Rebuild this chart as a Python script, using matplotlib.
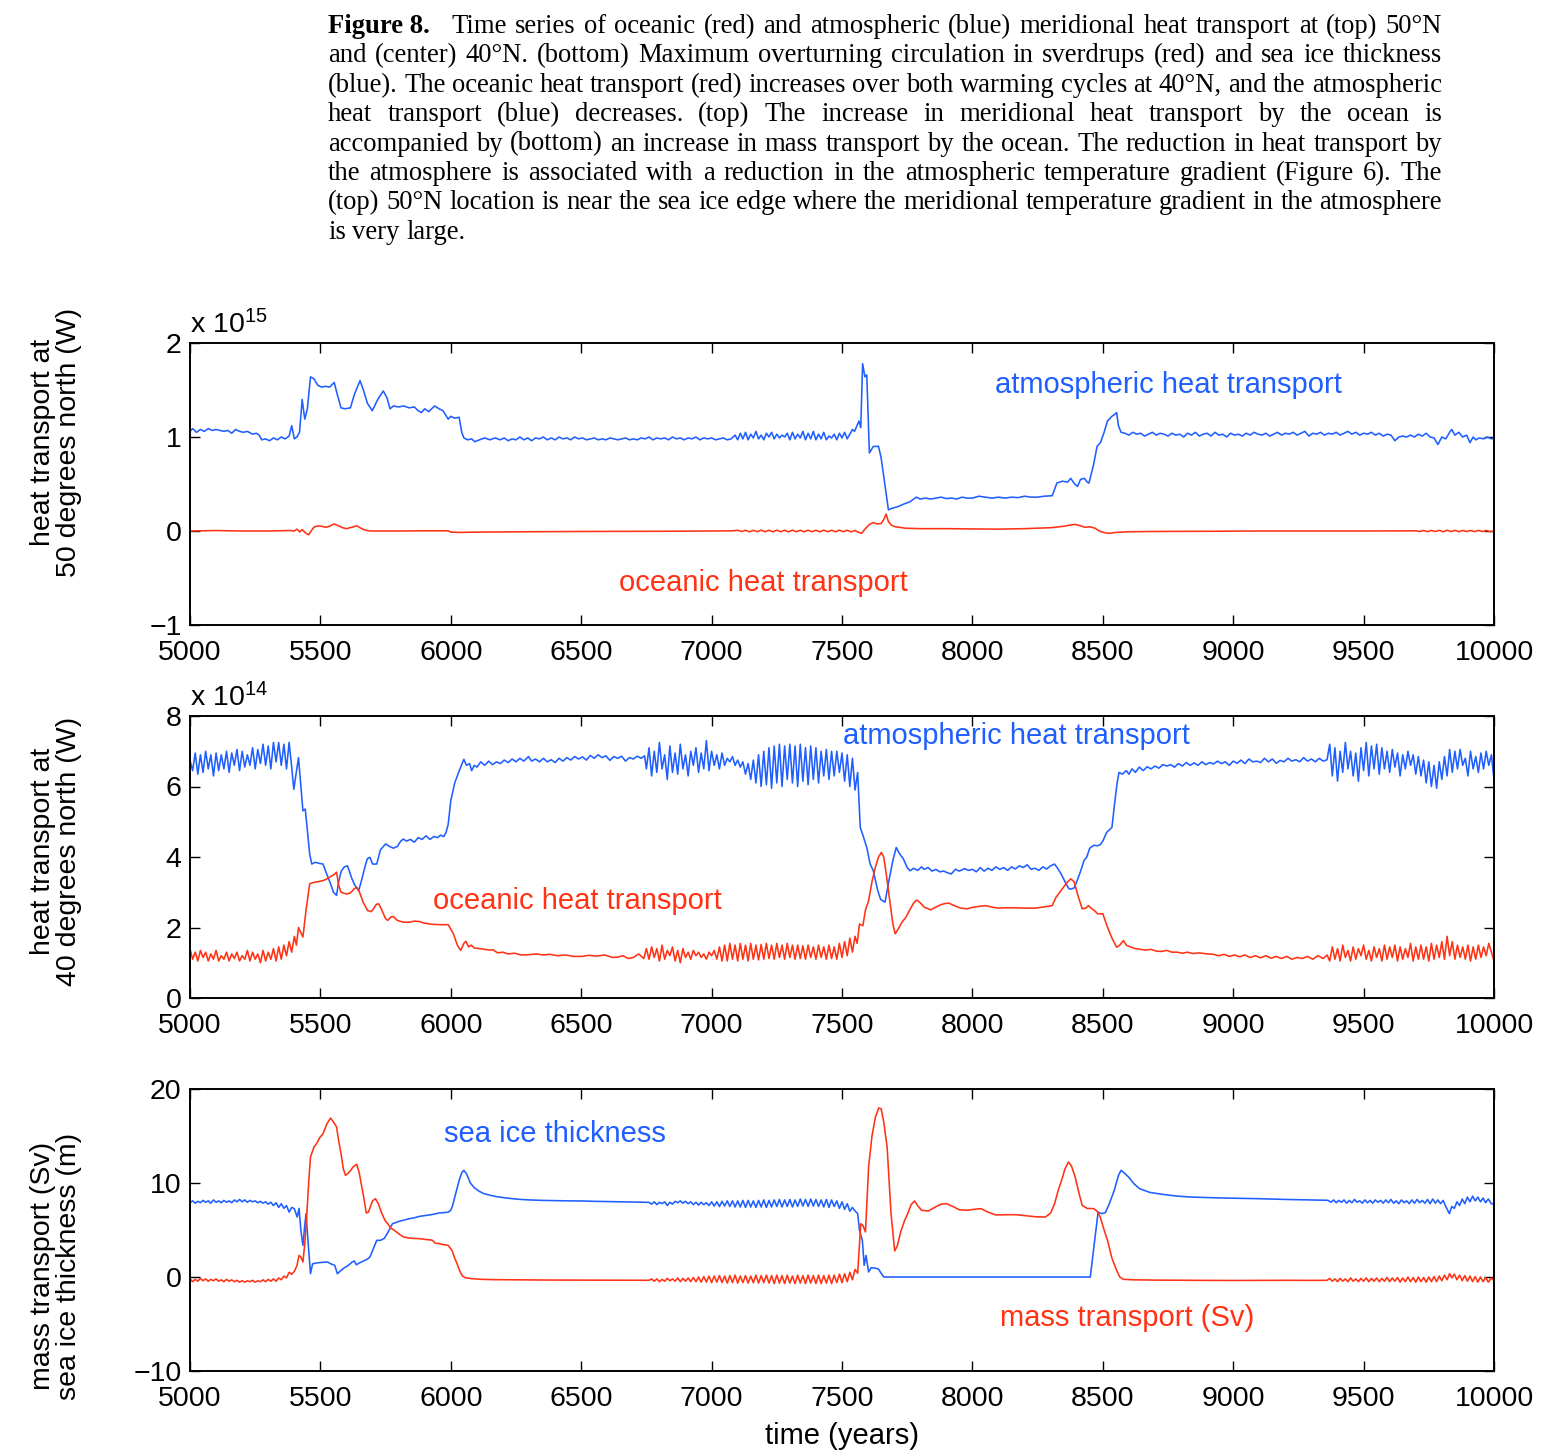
import matplotlib
matplotlib.use("Agg")
import matplotlib.pyplot as plt

plt.rcParams['font.family'] = ['Liberation Sans', 'DejaVu Sans']
plt.rcParams['mathtext.default'] = 'regular'

# ---------------- DATA ----------------
# Top panel: heat transport at 50N (units of 1e15 W)
atm50 = [(5000,1.06),(5010,1.09),(5025,1.05),(5040,1.08),(5055,1.06),(5070,1.09),(5085,1.07),(5100,1.08),
 (5115,1.07),(5130,1.06),(5145,1.07),(5160,1.04),(5175,1.08),(5190,1.06),(5205,1.05),(5220,1.06),(5240,1.03),
 (5255,1.04),(5265,1.02),(5275,0.97),(5290,0.98),(5305,0.96),(5320,0.99),(5335,0.97),(5350,1.00),(5365,0.98),
 (5380,1.01),(5390,1.12),(5400,0.98),(5410,1.00),(5420,1.05),(5430,1.40),(5440,1.19),(5450,1.30),(5462,1.64),
 (5475,1.62),(5490,1.55),(5505,1.53),(5520,1.54),(5535,1.53),(5553,1.58),(5565,1.45),(5579,1.31),(5595,1.30),
 (5615,1.31),(5630,1.45),(5652,1.60),(5665,1.50),(5680,1.36),(5699,1.28),(5720,1.40),(5741,1.49),(5755,1.42),
 (5767,1.30),(5780,1.33),(5800,1.32),(5820,1.33),(5840,1.31),(5860,1.32),(5875,1.28),(5887,1.26),(5900,1.30),
 (5915,1.27),(5938,1.33),(5955,1.30),(5970,1.28),(5990,1.19),(6000,1.22),(6015,1.20),(6032,1.21),(6042,1.05),
 (6050,0.99),(6065,0.97),(6080,0.98),(6092,0.95),(6110,0.97),(6130,0.99),(6150,0.97),(6170,0.99),(6190,0.97),
 (6205,0.99),(6220,0.96),(6235,0.98),(6250,0.97),(6265,1.00),(6280,0.97),(6295,0.99),(6310,0.96),(6325,0.99),
 (6340,0.98),(6355,1.00),(6370,0.97),(6385,0.99),(6400,0.97),(6415,1.00),(6430,0.98),(6445,0.99),(6460,0.97),
 (6475,1.00),(6490,0.98),(6505,0.99),(6520,0.97),(6535,0.98),(6550,0.99),(6565,0.97),(6580,0.98),(6595,0.97),
 (6610,0.99),(6625,0.98),(6640,0.97),(6655,0.98),(6670,0.99),(6685,0.97),(6700,0.98),(6715,0.97),(6730,0.99),
 (6745,0.98),(6760,1.00),(6775,0.97),(6790,0.99),(6805,0.98),(6820,0.99),(6835,0.97),(6850,1.00),(6865,0.98),
 (6880,0.99),(6895,0.97),(6910,0.99),(6925,0.98),(6940,1.00),(6955,0.97),(6970,0.99),(6985,0.98),(7000,0.99),
 (7015,0.97),(7030,0.98),(7045,0.99),(7060,0.97),(7075,0.98),(7090,1.02),(7100,0.97),(7110,1.04),(7120,0.98),
 (7130,1.05),(7140,0.97),(7150,1.03),(7160,0.99),(7170,1.06),(7180,0.98),(7190,1.02),(7200,0.97),(7210,1.04),
 (7220,1.00),(7230,1.05),(7240,0.98),(7250,1.03),(7260,0.99),(7270,1.02),(7280,1.00),(7290,1.04),(7300,0.97),
 (7310,1.05),(7320,0.98),(7330,1.03),(7340,0.99),(7350,1.06),(7360,0.97),(7370,1.04),(7380,0.98),(7390,1.06),
 (7400,0.97),(7410,1.03),(7420,0.98),(7430,1.05),(7440,0.97),(7450,1.01),(7460,0.99),(7470,1.03),(7480,0.97),
 (7490,1.04),(7500,0.99),(7510,1.05),(7520,0.98),(7530,1.03),(7540,1.08),(7548,1.06),(7565,1.17),(7572,1.10),
 (7579,1.78),(7588,1.64),(7595,1.66),(7605,0.83),(7620,0.90),(7640,0.90),(7650,0.78),(7678,0.225),(7690,0.24),
 (7715,0.26),(7740,0.29),(7760,0.31),(7785,0.36),(7800,0.34),(7820,0.35),(7840,0.34),(7860,0.35),(7880,0.36),
 (7900,0.345),(7920,0.35),(7940,0.34),(7960,0.36),(7980,0.35),(8000,0.35),(8025,0.37),(8050,0.36),(8075,0.35),
 (8100,0.36),(8125,0.35),(8150,0.36),(8175,0.355),(8200,0.37),(8225,0.36),(8250,0.36),(8275,0.37),(8306,0.375),
 (8324,0.51),(8345,0.53),(8365,0.52),(8377,0.56),(8392,0.50),(8403,0.475),(8415,0.55),(8430,0.56),(8440,0.52),
 (8447,0.51),(8455,0.60),(8465,0.71),(8478,0.90),(8491,0.94),(8505,1.05),(8518,1.17),(8535,1.22),(8545,1.24),
 (8553,1.26),(8560,1.12),(8570,1.05),(8585,1.04),(8600,1.02),(8615,1.05),(8630,1.03),(8645,1.04),(8660,1.01),
 (8675,1.03),(8690,1.05),(8705,1.02),(8720,1.04),(8735,1.03),(8750,1.01),(8765,1.04),(8780,1.02),(8795,1.03),
 (8810,1.00),(8825,1.04),(8840,1.02),(8855,1.05),(8870,1.01),(8885,1.03),(8900,1.04),(8915,1.01),(8930,1.05),
 (8945,1.02),(8960,1.03),(8975,1.00),(8990,1.04),(9005,1.02),(9020,1.03),(9035,1.01),(9050,1.04),(9065,1.02),
 (9080,1.05),(9095,1.03),(9110,1.02),(9125,1.04),(9140,1.01),(9155,1.03),(9170,1.05),(9185,1.02),(9200,1.04),
 (9215,1.03),(9230,1.05),(9245,1.02),(9260,1.04),(9275,1.06),(9290,1.01),(9305,1.04),(9320,1.03),(9335,1.05),
 (9350,1.02),(9365,1.04),(9380,1.03),(9395,1.05),(9410,1.02),(9425,1.04),(9440,1.06),(9455,1.03),(9470,1.05),
 (9485,1.02),(9500,1.04),(9515,1.03),(9530,1.05),(9545,1.02),(9560,1.04),(9575,1.01),(9590,1.03),(9605,1.02),
 (9620,0.96),(9635,1.00),(9650,1.01),(9665,1.00),(9680,1.02),(9695,1.00),(9710,1.03),(9725,1.01),(9740,1.04),
 (9755,1.00),(9770,0.99),(9785,0.92),(9800,1.00),(9815,0.98),(9830,1.05),(9838,1.08),(9850,1.02),(9865,1.05),
 (9880,1.00),(9895,1.02),(9908,0.94),(9920,1.00),(9930,0.97),(9944,0.99),(9960,0.98),(9975,1.00),(9990,0.98),
 (10000,0.99)]

ocn50 = [(5000,0.0),(5100,0.005),(5200,0.0),(5300,0.0),(5380,0.005),(5400,0.0),(5410,0.02),(5420,-0.01),
 (5430,0.015),(5445,-0.025),(5455,-0.04),(5462,-0.01),(5475,0.04),(5490,0.055),(5505,0.05),(5520,0.04),
 (5535,0.05),(5553,0.075),(5570,0.055),(5585,0.035),(5600,0.025),(5620,0.04),(5640,0.055),(5655,0.03),
 (5670,0.01),(5690,0.0),(5720,0.0),(5800,0.0),(5900,0.002),(5990,0.002),(6000,-0.012),(6030,-0.015),
 (6100,-0.012),(6300,-0.008),(6500,-0.005),(6800,-0.003),(7000,0.0),(7080,0.002),(7100,0.008),(7115,-0.006),
 (7130,0.008),(7145,-0.008),(7160,0.007),(7175,-0.007),(7190,0.009),(7205,-0.008),(7220,0.008),(7235,-0.009),
 (7250,0.009),(7265,-0.008),(7280,0.008),(7295,-0.009),(7310,0.009),(7325,-0.008),(7340,0.008),(7355,-0.009),
 (7370,0.009),(7385,-0.008),(7400,0.008),(7415,-0.009),(7430,0.009),(7445,-0.008),(7460,0.008),(7475,-0.009),
 (7490,0.009),(7505,-0.008),(7520,0.008),(7535,-0.009),(7550,0.006),(7560,-0.01),(7575,-0.025),(7588,0.02),
 (7605,0.07),(7620,0.09),(7635,0.075),(7650,0.08),(7660,0.12),(7669,0.18),(7678,0.10),(7690,0.06),(7705,0.045),
 (7720,0.04),(7740,0.03),(7800,0.025),(7900,0.025),(8000,0.022),(8100,0.02),(8200,0.025),(8300,0.035),
 (8350,0.05),(8380,0.065),(8394,0.07),(8410,0.06),(8430,0.04),(8450,0.045),(8470,0.03),(8490,-0.005),
 (8510,-0.02),(8526,-0.025),(8550,-0.015),(8600,-0.008),(8700,-0.005),(8900,-0.003),(9100,0.0),(9300,0.0),
 (9500,0.0),(9700,0.002),(9715,-0.006),(9730,0.006),(9745,-0.007),(9760,0.006),(9775,-0.006),(9790,0.007),
 (9805,-0.008),(9820,0.008),(9835,-0.006),(9850,0.007),(9865,-0.007),(9880,0.006),(9895,-0.006),(9910,0.006),
 (9925,-0.007),(9940,0.007),(9955,-0.006),(9970,0.006),(9985,-0.007),(10000,0.0)]

# Middle panel: heat transport at 40N (units of 1e14 W)
atm40 = [(5000,6.75),(5010,6.45),(5020,6.95),(5030,6.35),(5040,6.9),(5050,6.4),(5060,7.0),(5070,6.5),(5080,6.9),
 (5090,6.3),(5100,6.95),(5110,6.45),(5120,6.9),(5130,6.5),(5140,7.0),(5150,6.4),(5160,6.95),(5170,6.6),
 (5180,7.05),(5190,6.45),(5200,7.0),(5210,6.55),(5220,6.9),(5230,6.6),(5240,7.1),(5250,6.5),(5260,7.05),
 (5270,6.65),(5280,7.2),(5290,6.6),(5300,7.15),(5310,6.5),(5320,7.25),(5330,6.7),(5340,7.25),(5350,6.6),
 (5360,7.2),(5370,6.5),(5380,7.25),(5390,6.55),(5398,5.92),(5416,6.82),(5433,5.31),(5442,5.36),(5459,4.08),
 (5467,3.8),(5480,3.85),(5495,3.82),(5510,3.80),(5525,3.5),(5537,3.28),(5550,3.0),(5562,2.91),(5570,3.3),
 (5580,3.6),(5592,3.72),(5604,3.75),(5620,3.4),(5632,3.2),(5647,3.05),(5660,3.4),(5672,3.75),(5680,3.95),
 (5690,3.99),(5700,3.8),(5716,3.80),(5730,4.2),(5750,4.37),(5765,4.3),(5780,4.25),(5795,4.3),(5808,4.45),
 (5818,4.51),(5830,4.45),(5845,4.5),(5860,4.42),(5875,4.55),(5890,4.5),(5905,4.6),(5920,4.5),(5935,4.58),
 (5950,4.55),(5960,4.62),(5973,4.58),(5982,4.7),(5990,4.93),(6000,5.6),(6015,6.1),(6030,6.4),(6041,6.6),
 (6050,6.77),(6060,6.6),(6072,6.65),(6080,6.45),(6090,6.6),(6100,6.55),(6115,6.7),(6130,6.6),(6145,6.72),
 (6160,6.62),(6175,6.7),(6190,6.65),(6205,6.75),(6220,6.68),(6235,6.78),(6250,6.7),(6265,6.8),(6280,6.72),
 (6298,6.85),(6310,6.72),(6325,6.78),(6340,6.7),(6355,6.8),(6370,6.7),(6385,6.76),(6400,6.68),(6415,6.8),
 (6430,6.72),(6445,6.82),(6460,6.75),(6475,6.85),(6490,6.78),(6505,6.84),(6520,6.75),(6535,6.88),(6550,6.8),
 (6565,6.9),(6580,6.82),(6595,6.87),(6610,6.74),(6625,6.85),(6640,6.8),(6655,6.86),(6670,6.72),(6685,6.82),
 (6700,6.78),(6715,6.86),(6730,6.8),(6743,6.87),(6750,6.5),(6760,7.1),(6770,6.3),(6780,7.0),(6790,6.4),
 (6800,7.25),(6810,6.5),(6820,6.9),(6830,6.2),(6840,7.15),(6850,6.4),(6860,6.95),(6870,6.35),(6880,7.2),
 (6890,6.5),(6900,6.9),(6910,6.3),(6920,7.0),(6930,6.6),(6940,7.1),(6950,6.4),(6960,6.95),(6970,6.5),
 (6980,7.3),(6990,6.45),(7000,7.0),(7010,6.6),(7020,6.9),(7030,6.5),(7040,6.95),(7050,6.6),(7060,6.8),
 (7070,6.7),(7080,6.85),(7090,6.6),(7100,6.75),(7110,6.55),(7120,6.7),(7130,6.35),(7140,6.65),(7150,6.2),
 (7160,6.75),(7170,6.1),(7180,6.9),(7190,6.0),(7200,7.0),(7210,6.05),(7220,7.1),(7230,5.95),(7240,7.15),
 (7250,6.1),(7260,7.2),(7270,6.0),(7280,7.15),(7290,6.2),(7300,7.2),(7310,6.1),(7320,7.15),(7330,6.0),
 (7340,7.2),(7350,6.15),(7360,7.1),(7370,6.05),(7380,7.15),(7390,6.2),(7400,7.1),(7410,6.1),(7420,7.0),
 (7430,6.3),(7440,7.05),(7450,6.2),(7460,7.0),(7470,6.3),(7480,7.0),(7490,6.4),(7500,6.95),(7510,6.15),
 (7520,6.9),(7530,6.0),(7540,6.8),(7550,5.9),(7560,6.4),(7570,4.84),(7581,4.6),(7595,4.27),(7608,3.8),
 (7620,3.61),(7637,3.05),(7648,2.8),(7655,2.76),(7665,2.72),(7680,3.33),(7695,3.9),(7708,4.27),(7720,4.1),
 (7735,3.95),(7750,3.7),(7761,3.61),(7775,3.68),(7790,3.62),(7805,3.72),(7815,3.65),(7830,3.7),(7845,3.6),
 (7860,3.65),(7875,3.58),(7890,3.6),(7905,3.55),(7919,3.52),(7935,3.65),(7950,3.6),(7970,3.67),(7985,3.62),
 (8000,3.65),(8015,3.58),(8030,3.7),(8045,3.6),(8060,3.68),(8075,3.62),(8090,3.72),(8105,3.65),(8120,3.7),
 (8135,3.62),(8150,3.72),(8165,3.66),(8180,3.75),(8195,3.7),(8210,3.78),(8225,3.65),(8240,3.68),(8255,3.62),
 (8270,3.72),(8285,3.66),(8300,3.75),(8315,3.80),(8325,3.7),(8340,3.52),(8355,3.3),(8370,3.1),(8377,3.09),
 (8390,3.12),(8400,3.3),(8415,3.6),(8428,3.9),(8438,3.99),(8450,4.25),(8465,4.33),(8480,4.32),(8490,4.35),
 (8500,4.45),(8515,4.7),(8535,4.84),(8545,5.5),(8555,6.1),(8562,6.40),(8575,6.35),(8590,6.45),(8600,6.35),
 (8612,6.5),(8625,6.4),(8640,6.55),(8655,6.45),(8670,6.56),(8685,6.5),(8700,6.58),(8715,6.52),(8730,6.62),
 (8747,6.58),(8760,6.62),(8775,6.55),(8790,6.65),(8805,6.58),(8820,6.68),(8835,6.6),(8850,6.67),(8865,6.6),
 (8880,6.7),(8895,6.62),(8910,6.68),(8925,6.64),(8940,6.72),(8955,6.65),(8970,6.7),(8985,6.6),(9000,6.72),
 (9015,6.66),(9030,6.75),(9045,6.65),(9060,6.78),(9075,6.7),(9090,6.72),(9105,6.68),(9120,6.8),(9135,6.7),
 (9150,6.78),(9165,6.66),(9180,6.74),(9195,6.7),(9210,6.8),(9225,6.72),(9240,6.76),(9255,6.7),(9270,6.82),
 (9285,6.72),(9300,6.78),(9315,6.7),(9330,6.8),(9345,6.72),(9360,6.76),(9370,7.2),(9380,6.3),(9390,7.1),
 (9400,6.15),(9410,7.0),(9420,6.4),(9430,7.25),(9440,6.5),(9450,7.0),(9460,6.3),(9470,6.95),(9480,6.15),
 (9490,7.1),(9500,6.45),(9510,7.25),(9520,6.3),(9530,7.15),(9540,6.5),(9550,7.2),(9560,6.35),(9570,7.1),
 (9580,6.5),(9590,7.0),(9600,6.4),(9610,7.05),(9620,6.55),(9630,6.95),(9640,6.3),(9650,6.9),(9660,6.5),
 (9670,7.0),(9680,6.6),(9690,6.9),(9700,6.35),(9710,6.85),(9720,6.3),(9730,6.75),(9740,6.1),(9750,6.7),
 (9760,6.0),(9770,6.6),(9780,5.95),(9790,6.7),(9800,6.2),(9810,6.85),(9820,6.3),(9830,7.05),(9840,6.4),
 (9850,7.0),(9860,6.5),(9870,7.05),(9880,6.6),(9890,6.8),(9900,6.3),(9910,7.0),(9920,6.5),(9930,6.85),
 (9940,6.4),(9950,6.95),(9960,6.5),(9970,7.0),(9980,6.6),(9990,6.9),(10000,6.2)]

ocn40 = [(5000,1.4),(5010,1.1),(5020,1.3),(5030,1.05),(5040,1.35),(5050,1.15),(5060,1.3),(5070,1.05),(5080,1.25),
 (5090,1.1),(5100,1.35),(5110,1.05),(5120,1.2),(5130,1.1),(5140,1.3),(5150,1.05),(5160,1.25),(5170,1.12),
 (5180,1.3),(5190,1.05),(5200,1.2),(5210,1.1),(5220,1.35),(5230,1.05),(5240,1.3),(5250,1.1),(5260,1.25),
 (5270,1.0),(5280,1.35),(5290,1.05),(5300,1.3),(5310,1.1),(5320,1.4),(5330,1.05),(5340,1.45),(5350,1.1),
 (5360,1.5),(5370,1.2),(5380,1.6),(5390,1.3),(5400,1.75),(5408,1.5),(5416,2.0),(5433,1.73),(5445,2.5),
 (5459,3.24),(5475,3.28),(5490,3.3),(5510,3.33),(5525,3.38),(5540,3.45),(5552,3.5),(5562,3.57),(5570,3.2),
 (5579,3.0),(5600,2.95),(5615,2.98),(5630,3.1),(5639,3.14),(5650,3.0),(5665,2.7),(5681,2.48),(5695,2.45),
 (5705,2.55),(5715,2.66),(5724,2.67),(5735,2.5),(5750,2.25),(5758,2.2),(5770,2.3),(5780,2.31),(5795,2.2),
 (5818,2.15),(5840,2.15),(5860,2.18),(5880,2.17),(5900,2.12),(5930,2.09),(5960,2.08),(5990,2.08),(6000,1.95),
 (6010,1.82),(6025,1.5),(6038,1.35),(6050,1.55),(6058,1.61),(6068,1.45),(6078,1.5),(6090,1.42),(6110,1.4),
 (6130,1.38),(6150,1.36),(6161,1.37),(6180,1.28),(6200,1.3),(6220,1.25),(6245,1.27),(6270,1.22),(6300,1.23),
 (6330,1.25),(6355,1.22),(6380,1.24),(6410,1.2),(6440,1.22),(6470,1.18),(6503,1.18),(6530,1.21),(6560,1.19),
 (6590,1.22),(6620,1.15),(6640,1.16),(6660,1.2),(6680,1.12),(6700,1.15),(6720,1.25),(6740,1.12),(6750,1.4),
 (6760,1.1),(6770,1.45),(6780,1.15),(6790,1.4),(6800,1.05),(6810,1.5),(6820,1.1),(6830,1.35),(6840,1.2),
 (6850,1.45),(6860,1.05),(6870,1.35),(6880,1.0),(6890,1.4),(6900,1.15),(6910,1.3),(6920,1.1),(6930,1.35),
 (6940,1.2),(6950,1.3),(6960,1.15),(6970,1.25),(6980,1.1),(6990,1.3),(7000,1.2),(7010,1.35),(7020,1.1),
 (7030,1.45),(7040,1.05),(7050,1.5),(7060,1.05),(7070,1.55),(7080,1.1),(7090,1.5),(7100,1.05),(7110,1.55),
 (7120,1.1),(7130,1.5),(7140,1.05),(7150,1.55),(7160,1.1),(7170,1.5),(7180,1.08),(7190,1.52),(7200,1.1),
 (7210,1.55),(7220,1.12),(7230,1.5),(7240,1.1),(7250,1.55),(7260,1.15),(7270,1.5),(7280,1.1),(7290,1.55),
 (7300,1.15),(7310,1.5),(7320,1.1),(7330,1.5),(7340,1.12),(7350,1.48),(7360,1.1),(7370,1.5),(7380,1.15),
 (7390,1.45),(7400,1.1),(7410,1.5),(7420,1.15),(7430,1.45),(7440,1.1),(7450,1.5),(7460,1.12),(7470,1.45),
 (7480,1.1),(7490,1.55),(7500,1.15),(7510,1.6),(7520,1.2),(7530,1.7),(7540,1.3),(7550,1.75),(7558,1.55),
 (7567,2.10),(7580,2.05),(7590,2.5),(7602,2.76),(7615,3.3),(7628,3.71),(7640,4.0),(7651,4.13),(7660,4.0),
 (7670,3.5),(7683,2.76),(7695,2.1),(7704,1.82),(7715,1.95),(7730,2.15),(7745,2.29),(7760,2.5),(7775,2.7),
 (7787,2.78),(7800,2.7),(7815,2.58),(7840,2.50),(7860,2.58),(7880,2.65),(7895,2.68),(7910,2.69),(7930,2.62),
 (7955,2.55),(7980,2.53),(8000,2.57),(8025,2.6),(8051,2.62),(8075,2.58),(8100,2.55),(8130,2.56),(8166,2.56),
 (8200,2.55),(8240,2.55),(8270,2.58),(8290,2.6),(8306,2.62),(8320,2.85),(8340,3.05),(8360,3.25),(8377,3.38),
 (8390,3.3),(8405,2.9),(8421,2.53),(8435,2.55),(8445,2.62),(8455,2.55),(8468,2.48),(8480,2.39),(8500,2.39),
 (8518,2.01),(8535,1.7),(8553,1.44),(8565,1.5),(8579,1.63),(8590,1.5),(8605,1.45),(8625,1.4),(8645,1.38),
 (8665,1.36),(8685,1.38),(8705,1.33),(8725,1.32),(8745,1.35),(8765,1.3),(8785,1.3),(8805,1.27),(8825,1.3),
 (8845,1.26),(8870,1.28),(8900,1.25),(8923,1.24),(8945,1.2),(8965,1.24),(8985,1.18),(9005,1.22),(9025,1.17),
 (9045,1.22),(9065,1.15),(9085,1.2),(9105,1.14),(9125,1.2),(9145,1.13),(9165,1.18),(9185,1.12),(9205,1.18),
 (9225,1.1),(9245,1.15),(9265,1.12),(9285,1.18),(9305,1.1),(9325,1.2),(9345,1.12),(9360,1.22),(9370,1.05),
 (9380,1.45),(9390,1.1),(9400,1.4),(9410,1.05),(9420,1.5),(9430,1.15),(9440,1.35),(9450,1.05),(9460,1.45),
 (9470,1.1),(9480,1.4),(9490,1.2),(9500,1.5),(9510,1.1),(9520,1.35),(9530,1.05),(9540,1.45),(9550,1.15),
 (9560,1.4),(9570,1.05),(9580,1.5),(9590,1.1),(9600,1.45),(9610,1.15),(9620,1.5),(9630,1.05),(9640,1.45),
 (9650,1.1),(9660,1.4),(9670,1.15),(9680,1.55),(9690,1.05),(9700,1.45),(9710,1.1),(9720,1.5),(9730,1.1),
 (9740,1.45),(9750,1.05),(9760,1.55),(9770,1.1),(9780,1.5),(9790,1.15),(9800,1.6),(9810,1.1),(9820,1.75),
 (9830,1.2),(9840,1.6),(9850,1.1),(9860,1.5),(9870,1.15),(9880,1.45),(9890,1.1),(9900,1.5),(9910,1.05),
 (9920,1.45),(9930,1.1),(9940,1.5),(9950,1.15),(9960,1.45),(9970,1.2),(9980,1.55),(9990,1.3),(10000,1.05)]

# Bottom panel: sea ice thickness (m) and max overturning (Sv)
ice = [(5000,7.9),(5010,8.1),(5020,7.85),(5030,8.05),(5040,7.9),(5050,8.15),(5060,7.95),(5070,8.1),(5080,7.85),
 (5090,8.2),(5100,7.95),(5110,8.1),(5120,7.9),(5130,8.15),(5140,7.95),(5150,8.1),(5160,7.9),(5170,8.2),
 (5180,8.0),(5190,8.25),(5200,8.0),(5210,8.2),(5220,7.95),(5230,8.15),(5240,8.0),(5250,8.1),(5260,7.9),
 (5270,8.05),(5280,7.85),(5290,8.0),(5300,7.75),(5310,7.95),(5320,7.6),(5330,7.9),(5340,7.4),(5350,7.8),
 (5360,7.3),(5370,7.6),(5380,6.9),(5390,7.4),(5400,7.27),(5411,6.38),(5418,7.3),(5425,5.0),(5433,3.37),
 (5440,5.5),(5445,6.74),(5452,4.0),(5462,0.35),(5470,1.4),(5485,1.5),(5505,1.55),(5527,1.60),(5540,1.4),
 (5555,1.24),(5565,0.35),(5575,0.6),(5590,0.95),(5610,1.3),(5622,1.6),(5630,1.7),(5638,1.3),(5650,1.5),
 (5665,1.7),(5680,1.9),(5690,2.13),(5700,2.8),(5716,3.9),(5730,3.9),(5745,4.1),(5760,4.8),(5776,5.67),
 (5790,5.8),(5805,5.95),(5818,6.03),(5840,6.2),(5860,6.3),(5880,6.45),(5905,6.55),(5930,6.65),(5955,6.81),
 (5975,6.85),(5990,6.9),(6000,7.1),(6007,7.62),(6020,9.0),(6032,10.28),(6042,11.1),(6050,11.35),(6060,11.0),
 (6075,10.0),(6090,9.5),(6110,9.1),(6127,8.87),(6150,8.7),(6175,8.55),(6200,8.45),(6230,8.35),(6264,8.26),
 (6300,8.2),(6350,8.15),(6400,8.12),(6450,8.1),(6500,8.09),(6550,8.05),(6600,8.03),(6650,8.0),(6700,7.97),
 (6760,7.94),(6770,7.75),(6780,8.0),(6790,7.7),(6800,7.95),(6810,7.8),(6820,8.0),(6830,7.6),(6840,7.95),
 (6850,7.75),(6860,8.05),(6870,7.9),(6880,8.1),(6890,7.85),(6900,8.05),(6910,7.8),(6920,8.0),(6930,7.7),
 (6940,7.95),(6950,7.65),(6960,7.95),(6970,7.7),(6980,7.9),(6990,7.6),(7000,8.0),(7010,7.55),(7020,8.0),
 (7030,7.5),(7040,8.05),(7050,7.55),(7060,8.1),(7070,7.5),(7080,8.1),(7090,7.45),(7100,8.1),(7110,7.45),
 (7120,8.15),(7130,7.4),(7140,8.15),(7150,7.45),(7160,8.1),(7170,7.4),(7180,8.15),(7190,7.45),(7200,8.2),
 (7210,7.4),(7220,8.15),(7230,7.45),(7240,8.2),(7250,7.5),(7260,8.25),(7270,7.45),(7280,8.2),(7290,7.5),
 (7300,8.25),(7310,7.45),(7320,8.2),(7330,7.5),(7340,8.3),(7350,7.55),(7360,8.25),(7370,7.5),(7380,8.3),
 (7390,7.55),(7400,8.25),(7410,7.5),(7420,8.2),(7430,7.45),(7440,8.25),(7450,7.4),(7460,8.2),(7470,7.5),
 (7480,8.1),(7490,7.3),(7500,8.0),(7510,7.2),(7520,7.8),(7530,7.0),(7540,7.4),(7548,7.09),(7560,6.74),
 (7567,4.96),(7578,3.9),(7585,1.24),(7592,2.3),(7602,0.53),(7612,0.99),(7625,0.95),(7640,0.85),(7650,0.4),
 (7660,0.0),(8452,0.0),(8482,6.91),(8495,6.74),(8510,6.85),(8525,7.8),(8544,9.22),(8560,10.8),(8570,11.35),
 (8585,11.0),(8600,10.6),(8620,9.9),(8641,9.40),(8680,9.0),(8729,8.79),(8780,8.62),(8835,8.51),(8900,8.45),
 (9000,8.38),(9099,8.33),(9200,8.25),(9300,8.2),(9363,8.16),(9375,7.95),(9385,8.2),(9395,7.9),(9405,8.15),
 (9415,7.95),(9425,8.2),(9435,7.85),(9445,8.15),(9455,7.9),(9465,8.25),(9475,7.95),(9485,8.1),(9495,7.85),
 (9505,8.2),(9515,7.9),(9525,8.15),(9535,7.85),(9545,8.2),(9555,7.95),(9565,8.15),(9575,7.85),(9585,8.2),
 (9595,7.9),(9605,8.25),(9615,7.85),(9625,8.1),(9635,7.8),(9645,8.2),(9655,7.9),(9665,8.1),(9675,7.8),
 (9685,8.2),(9695,7.85),(9705,8.25),(9715,7.9),(9725,8.15),(9735,7.85),(9745,8.25),(9755,7.8),(9765,8.3),
 (9775,7.85),(9785,8.2),(9795,7.8),(9805,8.15),(9815,7.5),(9829,6.74),(9838,7.5),(9848,7.3),(9858,8.0),
 (9868,7.6),(9878,8.3),(9888,7.8),(9898,8.5),(9908,8.0),(9918,8.6),(9928,8.1),(9938,8.5),(9948,8.0),
 (9958,8.4),(9968,7.9),(9978,8.3),(9990,7.8),(10000,7.73)]

moc = [(5000,-0.2),(5010,-0.5),(5020,-0.25),(5030,-0.45),(5040,-0.15),(5050,-0.4),(5060,-0.2),(5070,-0.45),
 (5080,-0.25),(5090,-0.4),(5100,-0.2),(5110,-0.45),(5120,-0.3),(5130,-0.5),(5140,-0.25),(5150,-0.45),
 (5160,-0.3),(5170,-0.5),(5180,-0.35),(5190,-0.55),(5200,-0.4),(5210,-0.55),(5220,-0.4),(5230,-0.5),
 (5240,-0.35),(5250,-0.55),(5260,-0.4),(5270,-0.5),(5280,-0.3),(5290,-0.5),(5300,-0.25),(5310,-0.45),
 (5320,-0.2),(5330,-0.45),(5340,-0.1),(5350,-0.3),(5360,0.1),(5370,-0.1),(5380,0.5),(5390,0.3),(5400,0.6),
 (5410,1.2),(5418,2.3),(5425,2.13),(5433,1.6),(5440,3.5),(5448,6.74),(5455,10.0),(5462,12.77),(5475,13.8),
 (5485,14.18),(5497,14.8),(5510,15.25),(5525,16.3),(5539,16.91),(5550,16.5),(5562,15.96),(5570,14.5),
 (5579,13.12),(5588,11.5),(5596,10.82),(5605,11.0),(5615,11.3),(5625,11.7),(5639,11.99),(5648,11.2),
 (5656,10.0),(5666,8.5),(5676,6.81),(5684,6.9),(5692,7.5),(5700,8.1),(5711,8.33),(5722,7.8),(5735,6.8),
 (5748,6.0),(5758,5.67),(5770,5.2),(5784,4.96),(5800,4.6),(5818,4.26),(5840,4.15),(5860,4.1),(5880,4.08),
 (5900,4.0),(5920,3.95),(5930,3.90),(5940,3.6),(5955,3.55),(5970,3.45),(5990,3.37),(6005,2.8),(6015,2.0),
 (6024,1.42),(6035,0.6),(6045,0.1),(6055,-0.07),(6080,-0.18),(6120,-0.25),(6161,-0.28),(6250,-0.3),
 (6350,-0.32),(6450,-0.33),(6550,-0.34),(6675,-0.35),(6760,-0.35),(6770,-0.2),(6780,-0.45),(6790,-0.2),
 (6800,-0.5),(6810,-0.25),(6820,-0.45),(6830,-0.15),(6840,-0.4),(6850,-0.2),(6860,-0.45),(6870,-0.1),
 (6880,-0.5),(6890,-0.15),(6900,-0.45),(6910,-0.1),(6920,-0.5),(6930,-0.05),(6940,-0.5),(6950,0.0),
 (6960,-0.55),(6970,0.05),(6980,-0.55),(6990,0.1),(7000,-0.6),(7010,0.1),(7020,-0.55),(7030,0.15),
 (7040,-0.6),(7050,0.1),(7060,-0.65),(7070,0.15),(7080,-0.6),(7090,0.2),(7100,-0.65),(7110,0.1),(7120,-0.6),
 (7130,0.15),(7140,-0.65),(7150,0.1),(7160,-0.6),(7170,0.2),(7180,-0.65),(7190,0.15),(7200,-0.6),(7210,0.2),
 (7220,-0.65),(7230,0.15),(7240,-0.7),(7250,0.2),(7260,-0.65),(7270,0.15),(7280,-0.7),(7290,0.2),
 (7300,-0.65),(7310,0.1),(7320,-0.7),(7330,0.2),(7340,-0.65),(7350,0.15),(7360,-0.7),(7370,0.2),
 (7380,-0.65),(7390,0.15),(7400,-0.7),(7410,0.2),(7420,-0.7),(7430,0.15),(7440,-0.65),(7450,0.2),
 (7460,-0.7),(7470,0.2),(7480,-0.6),(7490,0.3),(7500,-0.6),(7510,0.35),(7520,-0.5),(7530,0.5),(7540,-0.3),
 (7550,0.8),(7560,0.4),(7572,5.67),(7580,5.5),(7590,4.79),(7602,11.70),(7615,15.0),(7628,17.0),
 (7641,17.98),(7650,17.9),(7660,16.5),(7673,13.83),(7688,6.74),(7702,2.77),(7712,3.3),(7725,4.8),(7740,6.0),
 (7752,6.74),(7765,7.7),(7778,8.09),(7790,7.6),(7805,7.1),(7831,7.02),(7855,7.4),(7880,7.75),(7901,7.8),
 (7925,7.5),(7950,7.15),(7980,7.1),(8005,7.2),(8033,7.27),(8060,6.9),(8090,6.6),(8120,6.62),(8166,6.63),
 (8210,6.5),(8245,6.4),(8280,6.38),(8300,6.8),(8315,7.80),(8330,9.3),(8342,10.28),(8355,11.5),(8368,12.23),
 (8380,11.8),(8394,10.64),(8408,9.0),(8421,7.62),(8440,7.3),(8465,7.27),(8478,7.0),(8490,6.38),(8505,5.0),
 (8518,3.9),(8535,2.0),(8553,0.71),(8565,0.0),(8579,-0.25),(8620,-0.3),(8700,-0.33),(8800,-0.35),
 (8900,-0.36),(9000,-0.37),(9100,-0.36),(9200,-0.35),(9300,-0.36),(9360,-0.35),(9370,-0.15),(9380,-0.45),
 (9390,-0.2),(9400,-0.5),(9410,-0.15),(9420,-0.45),(9430,-0.2),(9440,-0.5),(9450,-0.1),(9460,-0.45),
 (9470,-0.2),(9480,-0.5),(9490,-0.15),(9500,-0.45),(9510,-0.1),(9520,-0.5),(9530,-0.15),(9540,-0.45),
 (9550,-0.1),(9560,-0.5),(9570,-0.15),(9580,-0.45),(9590,-0.05),(9600,-0.5),(9610,-0.1),(9620,-0.45),
 (9630,-0.05),(9640,-0.55),(9650,-0.1),(9660,-0.5),(9670,0.0),(9680,-0.5),(9690,-0.05),(9700,-0.55),
 (9710,0.0),(9720,-0.5),(9730,-0.05),(9740,-0.55),(9750,0.0),(9760,-0.5),(9770,0.05),(9780,-0.5),(9790,0.1),
 (9800,-0.4),(9810,0.2),(9820,-0.3),(9830,0.35),(9838,-0.1),(9848,0.3),(9858,-0.3),(9868,0.2),(9878,-0.4),
 (9888,0.15),(9898,-0.45),(9908,0.1),(9918,-0.5),(9928,0.05),(9938,-0.55),(9948,0.0),(9958,-0.5),
 (9968,-0.05),(9978,-0.55),(9990,-0.1),(10000,-0.4)]

xticks = [5000, 5500, 6000, 6500, 7000, 7500, 8000, 8500, 9000, 9500, 10000]
yticks_top = [-1, 0, 1, 2]
yticks_mid = [0, 2, 4, 6, 8]
yticks_bot = [-10, 0, 10, 20]

caption_lines = [
    "Time series of oceanic (red) and atmospheric (blue) meridional heat transport at (top) 50°N",
    "and (center) 40°N. (bottom) Maximum overturning circulation in sverdrups (red) and sea ice thickness",
    "(blue). The oceanic heat transport (red) increases over both warming cycles at 40°N, and the atmospheric",
    "heat transport (blue) decreases. (top) The increase in meridional heat transport by the ocean is",
    "accompanied by (bottom) an increase in mass transport by the ocean. The reduction in heat transport by",
    "the atmosphere is associated with a reduction in the atmospheric temperature gradient (Figure 6). The",
    "(top) 50°N location is near the sea ice edge where the meridional temperature gradient in the atmosphere",
    "is very large.",
]

# ---------------- STYLE ----------------
W, H = 1546, 1455
BLUE = '#1f5fff'
RED = '#ff3214'
FS = 20.5
LFS = 21
LW = 1.15

fig = plt.figure(figsize=(W / 100, H / 100), dpi=100)
fig.patch.set_facecolor('white')

def fx(px):
    return px / W

def fy(py):
    return 1 - py / H

def make_ax(top, bottom):
    ax = fig.add_axes([fx(190), fy(bottom), fx(1494) - fx(190), (bottom - top) / H])
    ax.set_xlim(5000, 10000)
    ax.set_xticks(xticks)
    ax.tick_params(direction='in', top=True, right=True, length=7, width=1.0,
                   labelsize=FS, pad=6)
    ax.tick_params(axis='x', pad=11)
    for s in ax.spines.values():
        s.set_linewidth(1.4)
    return ax

def split(points):
    return [p[0] for p in points], [p[1] for p in points]

# Panel 1
ax1 = make_ax(343, 625)
x, y = split(atm50); ax1.plot(x, y, color=BLUE, lw=LW)
x, y = split(ocn50); ax1.plot(x, y, color=RED, lw=LW)
ax1.set_ylim(-1, 2); ax1.set_yticks(yticks_top)
ax1.text(0, 1.012, 'x 10$^{15}$', transform=ax1.transAxes, fontsize=FS, ha='left', va='bottom')
ax1.text(0.617, 0.851, 'atmospheric heat transport', transform=ax1.transAxes, color=BLUE,
         fontsize=LFS, ha='left', va='center')
ax1.text(0.329, 0.149, 'oceanic heat transport', transform=ax1.transAxes, color=RED,
         fontsize=LFS, ha='left', va='center')

# Panel 2
ax2 = make_ax(716, 998)
x, y = split(atm40); ax2.plot(x, y, color=BLUE, lw=LW)
x, y = split(ocn40); ax2.plot(x, y, color=RED, lw=LW)
ax2.set_ylim(0, 8); ax2.set_yticks(yticks_mid)
ax2.text(0, 1.012, 'x 10$^{14}$', transform=ax2.transAxes, fontsize=FS, ha='left', va='bottom')
ax2.text(0.501, 0.929, 'atmospheric heat transport', transform=ax2.transAxes, color=BLUE,
         fontsize=LFS, ha='left', va='center')
ax2.text(0.186, 0.344, 'oceanic heat transport', transform=ax2.transAxes, color=RED,
         fontsize=LFS, ha='left', va='center')

# Panel 3
ax3 = make_ax(1089, 1371)
x, y = split(ice); ax3.plot(x, y, color=BLUE, lw=LW)
x, y = split(moc); ax3.plot(x, y, color=RED, lw=LW)
ax3.set_ylim(-10, 20); ax3.set_yticks(yticks_bot)
ax3.text(0.195, 0.840, 'sea ice thickness', transform=ax3.transAxes, color=BLUE,
         fontsize=LFS, ha='left', va='center')
ax3.text(0.621, 0.188, 'mass transport (Sv)', transform=ax3.transAxes, color=RED,
         fontsize=LFS, ha='left', va='center')
ax3.set_xlabel('time (years)', fontsize=LFS, labelpad=7)

# y labels (two lines each)
for cy, txt in [(442, 'heat transport at\n50 degrees north (W)'),
                (851, 'heat transport at\n40 degrees north (W)'),
                (1266, 'mass transport (Sv)\nsea ice thickness (m)')]:
    fig.text(fx(56), fy(cy), txt, rotation=90, ha='center', va='center',
             multialignment='center', fontsize=FS, linespacing=1.0)

# ---------------- CAPTION (justified) ----------------
CAP_FS = 19.2
x0, x1 = 328, 1442
base0, dy = 33, 29.4
renderer = fig.canvas.get_renderer()
serif = ['Liberation Serif', 'DejaVu Serif']

def measure(t):
    return t.get_window_extent(renderer=renderer).width

probe2 = fig.text(0, 0, 'a a', fontsize=CAP_FS, family=serif)
probe1 = fig.text(0, 0, 'aa', fontsize=CAP_FS, family=serif)
spw = measure(probe2) - measure(probe1)
probe1.remove(); probe2.remove()

for i, line in enumerate(caption_lines):
    yb = base0 + i * dy
    items = []
    if i == 0:
        items.append(('Figure 8.', 'bold'))
    items += [(w, 'normal') for w in line.split(' ')]
    texts = [fig.text(0, fy(yb), w, fontsize=CAP_FS, fontweight=wt, family=serif,
                      ha='left', va='baseline') for (w, wt) in items]
    widths = [measure(t) for t in texts]
    if i == len(caption_lines) - 1:
        gaps = [spw] * (len(texts) - 1)
    else:
        extra0 = 2 * spw if i == 0 else 0
        total = (x1 - x0) - sum(widths) - extra0
        g = max(total / (len(texts) - 1), 0.6 * spw)
        gaps = [g] * (len(texts) - 1)
        if i == 0:
            gaps[0] += extra0
    xp = x0
    for k, t in enumerate(texts):
        t.set_x(fx(xp))
        if k < len(gaps):
            xp += widths[k] + gaps[k]

fig.savefig('out.png', dpi=100, facecolor='white')
